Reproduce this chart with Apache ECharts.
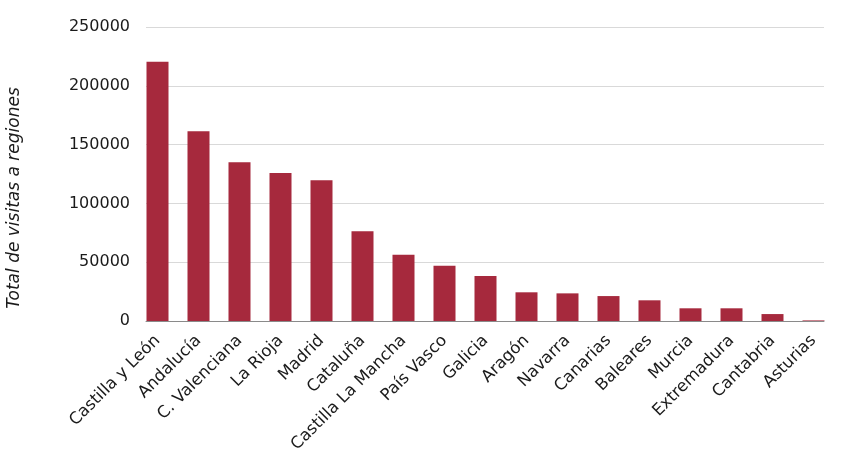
<!DOCTYPE html>
<html>
<head>
<meta charset="utf-8">
<script src="https://cdn.jsdelivr.net/npm/echarts@6/dist/echarts.min.js"></script>
<style>
  html, body { margin: 0; padding: 0; background: #fff; }
  #chart { width: 865px; height: 463px; }
</style>
</head>
<body>
<div id="chart"></div>
<script>
// regiones y total de visitas
const regiones = [
    'Castilla y León', 'Andalucía', 'C. Valenciana', 'La Rioja', 'Madrid',
    'Cataluña', 'Castilla La Mancha', 'País Vasco', 'Galicia', 'Aragón',
    'Navarra', 'Canarias', 'Baleares', 'Murcia', 'Extremadura',
    'Cantabria', 'Asturias'
];
const visitas = [
    220400, 161300, 135000, 125900, 119700,
    76400, 56300, 46900, 38200, 24400,
    23500, 21200, 17600, 10800, 10800,
    5900, 500
];
const yMin = 0;
const yMax = 250000;
const yStep = 50000;

const font = '"DejaVu Sans", sans-serif';
const barColor = '#A6293D';
const textColor = '#1a1a1a';

const myChart = echarts.init(document.getElementById('chart'));

const option = {
    backgroundColor: '#fff',
    animation: false,
    textStyle: { fontFamily: font },
    grid: [
        // barras
        { left: 137, right: 31, top: 27, bottom: 142 },
        // rejilla y eje Y
        { left: 146, right: 41, top: 27, bottom: 142 }
    ],
    xAxis: [
        {
            type: 'category',
            gridIndex: 0,
            data: regiones,
            axisLine: { show: false },
            axisTick: { show: false },
            axisLabel: {
                rotate: 45,
                interval: 0,
                margin: 17,
                color: textColor,
                fontSize: 16.5,
                fontFamily: font
            }
        },
        {
            type: 'category',
            gridIndex: 1,
            data: [''],
            axisLine: { show: true, lineStyle: { color: '#8a8a8a', width: 1 } },
            axisTick: { show: false },
            axisLabel: { show: false }
        }
    ],
    yAxis: [
        {
            type: 'value',
            gridIndex: 0,
            min: yMin, max: yMax, interval: yStep,
            axisLabel: { show: false },
            axisLine: { show: false },
            axisTick: { show: false },
            splitLine: { show: false }
        },
        {
            type: 'value',
            gridIndex: 1,
            min: yMin, max: yMax, interval: yStep,
            axisLine: { show: false },
            axisTick: { show: false },
            axisLabel: {
                color: textColor,
                fontSize: 16,
                margin: 16,
                fontFamily: font,
                formatter: v => String(v)
            },
            splitLine: { lineStyle: { color: '#d9d9d9', width: 1 } }
        }
    ],
    graphic: [{
        type: 'text',
        x: 15,
        y: 198,
        rotation: Math.PI / 2,
        style: {
            text: 'Total de visitas a regiones',
            font: 'italic 17px ' + font,
            fill: textColor,
            align: 'center',
            verticalAlign: 'middle'
        }
    }],
    series: [{
        type: 'bar',
        xAxisIndex: 0,
        yAxisIndex: 0,
        data: visitas,
        barWidth: 22,
        itemStyle: { color: barColor },
        z: 3
    }]
};
myChart.setOption(option);
window.addEventListener('resize', () => myChart.resize());
</script>
</body>
</html>
